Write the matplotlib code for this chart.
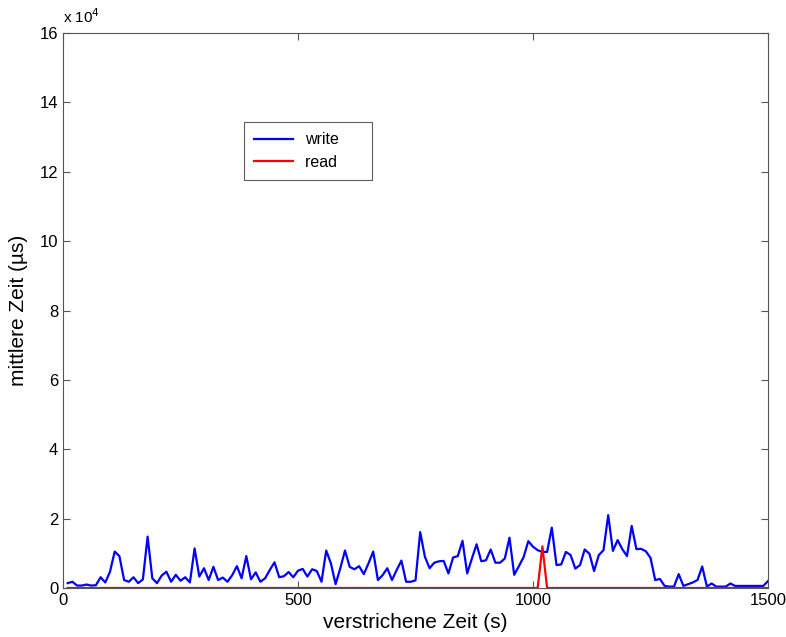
import numpy as np
import matplotlib
matplotlib.use("Agg")
import matplotlib.pyplot as plt
from matplotlib.ticker import FuncFormatter, MultipleLocator

plt.rcParams['font.family'] = ['Liberation Sans', 'DejaVu Sans']

# elapsed time (s), sampled every 10 s
elapsed = np.arange(10, 1501, 10)

# mean write latency (µs)
write_us = np.array([
    1400, 1800, 700, 700, 1000, 700, 800, 3100, 1600, 4700,
    10500, 9200, 2300, 1800, 3100, 1400, 2500, 14800, 2800, 1400,
    3600, 4700, 1800, 3800, 2100, 3100, 1600, 11400, 3300, 5700,
    2300, 6100, 2300, 3000, 1800, 3700, 6300, 2800, 9200, 2500,
    4500, 1800, 2800, 5200, 7400, 3100, 3400, 4600, 3100, 5000,
    5500, 3300, 5400, 4900, 1800, 10800, 7100, 1100, 5700, 10800,
    6100, 5400, 6300, 4000, 7100, 10500, 2300, 3700, 5700, 2300,
    5200, 7900, 1800, 1800, 2200, 16100, 9000, 5700, 7300, 7700,
    7800, 4200, 8800, 9200, 13600, 4200, 8500, 12600, 7700, 8000,
    11100, 7300, 7300, 8500, 14500, 3800, 6300, 8900, 13500, 11900,
    10900, 10400, 10400, 17400, 6600, 6800, 10400, 9500, 5600, 6600,
    11100, 9900, 4900, 9500, 10900, 21000, 10700, 13800, 11200, 9200,
    17900, 11200, 11300, 10600, 8700, 2300, 2600, 600, 400, 400,
    4000, 600, 1100, 1600, 2300, 6200, 400, 1300, 400, 400,
    400, 1300, 600, 600, 600, 600, 600, 600, 600, 2000,
])

# mean read latency (µs)
read_us = np.zeros(len(elapsed))
read_us[elapsed == 1020] = 12000

series_labels = ['write', 'read']

fig = plt.figure(figsize=(7.86, 6.37), dpi=100)
ax = fig.add_axes([63 / 786, 1 - 588 / 637, 705 / 786, 555 / 637])

ax.plot(elapsed, write_us, color='#0000ff', lw=1.6, label=series_labels[0])
ax.plot(elapsed, read_us, color='#ff0000', lw=1.6, label=series_labels[1])

ax.set_xlim(0, 1500)
ax.set_ylim(0, 160000)
ax.xaxis.set_major_locator(MultipleLocator(500))
ax.yaxis.set_major_locator(MultipleLocator(20000))
ax.yaxis.set_major_formatter(FuncFormatter(lambda v, p: f"{v / 1e4:g}"))

ax.tick_params(direction='in', length=5, width=0.8, colors='#555555',
               labelcolor='black', labelsize=12, top=True, right=True)
for sp in ax.spines.values():
    sp.set_color('#555555')
    sp.set_linewidth(0.8)

ax.text(0.0, 1.012, 'x 10$^{4}$', transform=ax.transAxes, fontsize=11,
        ha='left', va='bottom')

ax.set_xlabel('verstrichene Zeit (s)', fontsize=15, labelpad=4)
ax.set_ylabel('mittlere Zeit (µs)', fontsize=15, labelpad=8)

# legend with a wide box: pad the labels on the right
handles, labels = ax.get_legend_handles_labels()
labels = [lab + ' ' * 5 for lab in labels]
leg = ax.legend(handles, labels, loc='upper left',
                bbox_to_anchor=(181 / 705, 1 - 89 / 555),
                fontsize=11.5, frameon=True, fancybox=False, handlelength=2.4,
                handletextpad=0.8, borderpad=0.65, labelspacing=0.45,
                borderaxespad=0)
leg.get_frame().set_edgecolor('#333333')
leg.get_frame().set_linewidth(0.8)

fig.savefig('out.png', dpi=100)
